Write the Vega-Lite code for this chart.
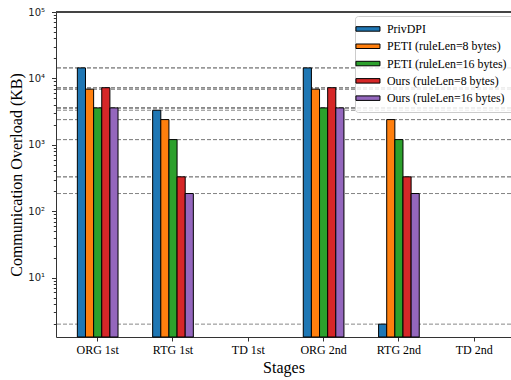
{
  "$schema": "https://vega.github.io/schema/vega-lite/v6.json",
  "width": 455,
  "height": 325,
  "autosize": "none",
  "padding": {"left": 56, "top": 12, "right": 0, "bottom": 43},
  "background": "white",
  "config": {"view": {"stroke": null}},
  "data": {
    "values": [
      {"stage": "ORG 1st", "series": "PrivDPI", "value": 14400},
      {"stage": "ORG 1st", "series": "PETI (ruleLen=8 bytes)", "value": 6900},
      {"stage": "ORG 1st", "series": "PETI (ruleLen=16 bytes)", "value": 3600},
      {"stage": "ORG 1st", "series": "Ours (ruleLen=8 bytes)", "value": 7250},
      {"stage": "ORG 1st", "series": "Ours (ruleLen=16 bytes)", "value": 3600},
      {"stage": "RTG 1st", "series": "PrivDPI", "value": 3320},
      {"stage": "RTG 1st", "series": "PETI (ruleLen=8 bytes)", "value": 2400},
      {"stage": "RTG 1st", "series": "PETI (ruleLen=16 bytes)", "value": 1200},
      {"stage": "RTG 1st", "series": "Ours (ruleLen=8 bytes)", "value": 330},
      {"stage": "RTG 1st", "series": "Ours (ruleLen=16 bytes)", "value": 185},
      {"stage": "ORG 2nd", "series": "PrivDPI", "value": 14400},
      {"stage": "ORG 2nd", "series": "PETI (ruleLen=8 bytes)", "value": 6900},
      {"stage": "ORG 2nd", "series": "PETI (ruleLen=16 bytes)", "value": 3600},
      {"stage": "ORG 2nd", "series": "Ours (ruleLen=8 bytes)", "value": 7250},
      {"stage": "ORG 2nd", "series": "Ours (ruleLen=16 bytes)", "value": 3600},
      {"stage": "RTG 2nd", "series": "PrivDPI", "value": 2},
      {"stage": "RTG 2nd", "series": "PETI (ruleLen=8 bytes)", "value": 2400},
      {"stage": "RTG 2nd", "series": "PETI (ruleLen=16 bytes)", "value": 1200},
      {"stage": "RTG 2nd", "series": "Ours (ruleLen=8 bytes)", "value": 330},
      {"stage": "RTG 2nd", "series": "Ours (ruleLen=16 bytes)", "value": 185}
    ]
  },
  "layer": [
    {
      "mark": {"type": "rule", "color": "#888888", "strokeDash": [4, 2], "strokeWidth": 1},
      "encoding": {
        "y": {
          "field": "value",
          "type": "quantitative",
          "scale": {"type": "log", "domain": [1.28, 100000], "nice": false},
          "axis": {
            "title": "Communication Overload (KB)",
            "titleFont": "Liberation Serif",
            "titleFontSize": 16,
            "titleFontWeight": "normal",
            "titleColor": "black",
            "titlePadding": 3,
            "values": [2,3,4,5,6,7,8,9,10,20,30,40,50,60,70,80,90,100,200,300,400,500,600,700,800,900,1000,2000,3000,4000,5000,6000,7000,8000,9000,10000,20000,30000,40000,50000,60000,70000,80000,90000,100000],
            "labelExpr": "abs(log(datum.value)/LN10 - round(log(datum.value)/LN10)) < 0.001 ? '10' + ['⁰','¹','²','³','⁴','⁵'][round(log(datum.value)/LN10)] : ''",
            "labelFont": "DejaVu Sans",
            "labelFontSize": 10,
            "labelColor": "#222",
            "labelPadding": 7,
            "tickSize": {"condition": {"test": "abs(log(datum.value)/LN10 - round(log(datum.value)/LN10)) < 0.001", "value": 4.5}, "value": 2.7},
            "tickColor": "#333",
            "domainColor": "#333",
            "grid": false,
            "labelFlush": false,
            "labelOverlap": false
          }
        }
      }
    },
    {
      "mark": {"type": "rule", "color": "#444", "strokeWidth": 1.2},
      "encoding": {
        "y": {"datum": 100000, "type": "quantitative", "scale": {"type": "log", "domain": [1.28, 100000], "nice": false}}
      }
    },
    {
      "mark": {"type": "bar", "stroke": "black", "strokeWidth": 1},
      "encoding": {
        "x": {
          "field": "stage",
          "type": "nominal",
          "scale": {"domain": ["ORG 1st", "RTG 1st", "TD 1st", "ORG 2nd", "RTG 2nd", "TD 2nd"], "paddingInner": 0.46, "paddingOuter": 0.251, "align": 0.565},
          "axis": {
            "title": "Stages",
            "titleFont": "Liberation Serif",
            "titleFontSize": 16,
            "titleFontWeight": "normal",
            "titleColor": "black",
            "titlePadding": 4,
            "labelFont": "Liberation Serif",
            "labelFontSize": 12,
            "labelColor": "black",
            "labelAngle": 0,
            "labelPadding": 3,
            "tickSize": 4,
            "tickColor": "#333",
            "domainColor": "#333"
          }
        },
        "xOffset": {
          "field": "series",
          "type": "nominal",
          "scale": {"domain": ["PrivDPI", "PETI (ruleLen=8 bytes)", "PETI (ruleLen=16 bytes)", "Ours (ruleLen=8 bytes)", "Ours (ruleLen=16 bytes)"]}
        },
        "y": {"field": "value", "type": "quantitative", "scale": {"type": "log", "domain": [1.28, 100000], "nice": false}},
        "y2": {"datum": 1.28},
        "fill": {
          "field": "series",
          "type": "nominal",
          "scale": {
            "domain": ["PrivDPI", "PETI (ruleLen=8 bytes)", "PETI (ruleLen=16 bytes)", "Ours (ruleLen=8 bytes)", "Ours (ruleLen=16 bytes)"],
            "range": ["#1f77b4", "#ff7f0e", "#2ca02c", "#d62728", "#9467bd"]
          },
          "legend": {
            "title": null,
            "orient": "none",
            "legendX": 299,
            "legendY": 4,
            "labelFont": "Liberation Serif",
            "labelFontSize": 11.9,
            "labelColor": "black",
            "symbolType": "M-2.67,-0.5L2.67,-0.5L2.67,0.5L-2.67,0.5Z",
            "symbolSize": 81,
            "symbolStrokeColor": "black",
            "symbolStrokeWidth": 1,
            "symbolOpacity": 1,
            "strokeColor": "#cccccc",
            "fillColor": "rgba(255,255,255,0.85)",
            "cornerRadius": 3,
            "padding": 7,
            "rowPadding": 4.3,
            "labelOffset": 13
          }
        }
      }
    }
  ]
}
